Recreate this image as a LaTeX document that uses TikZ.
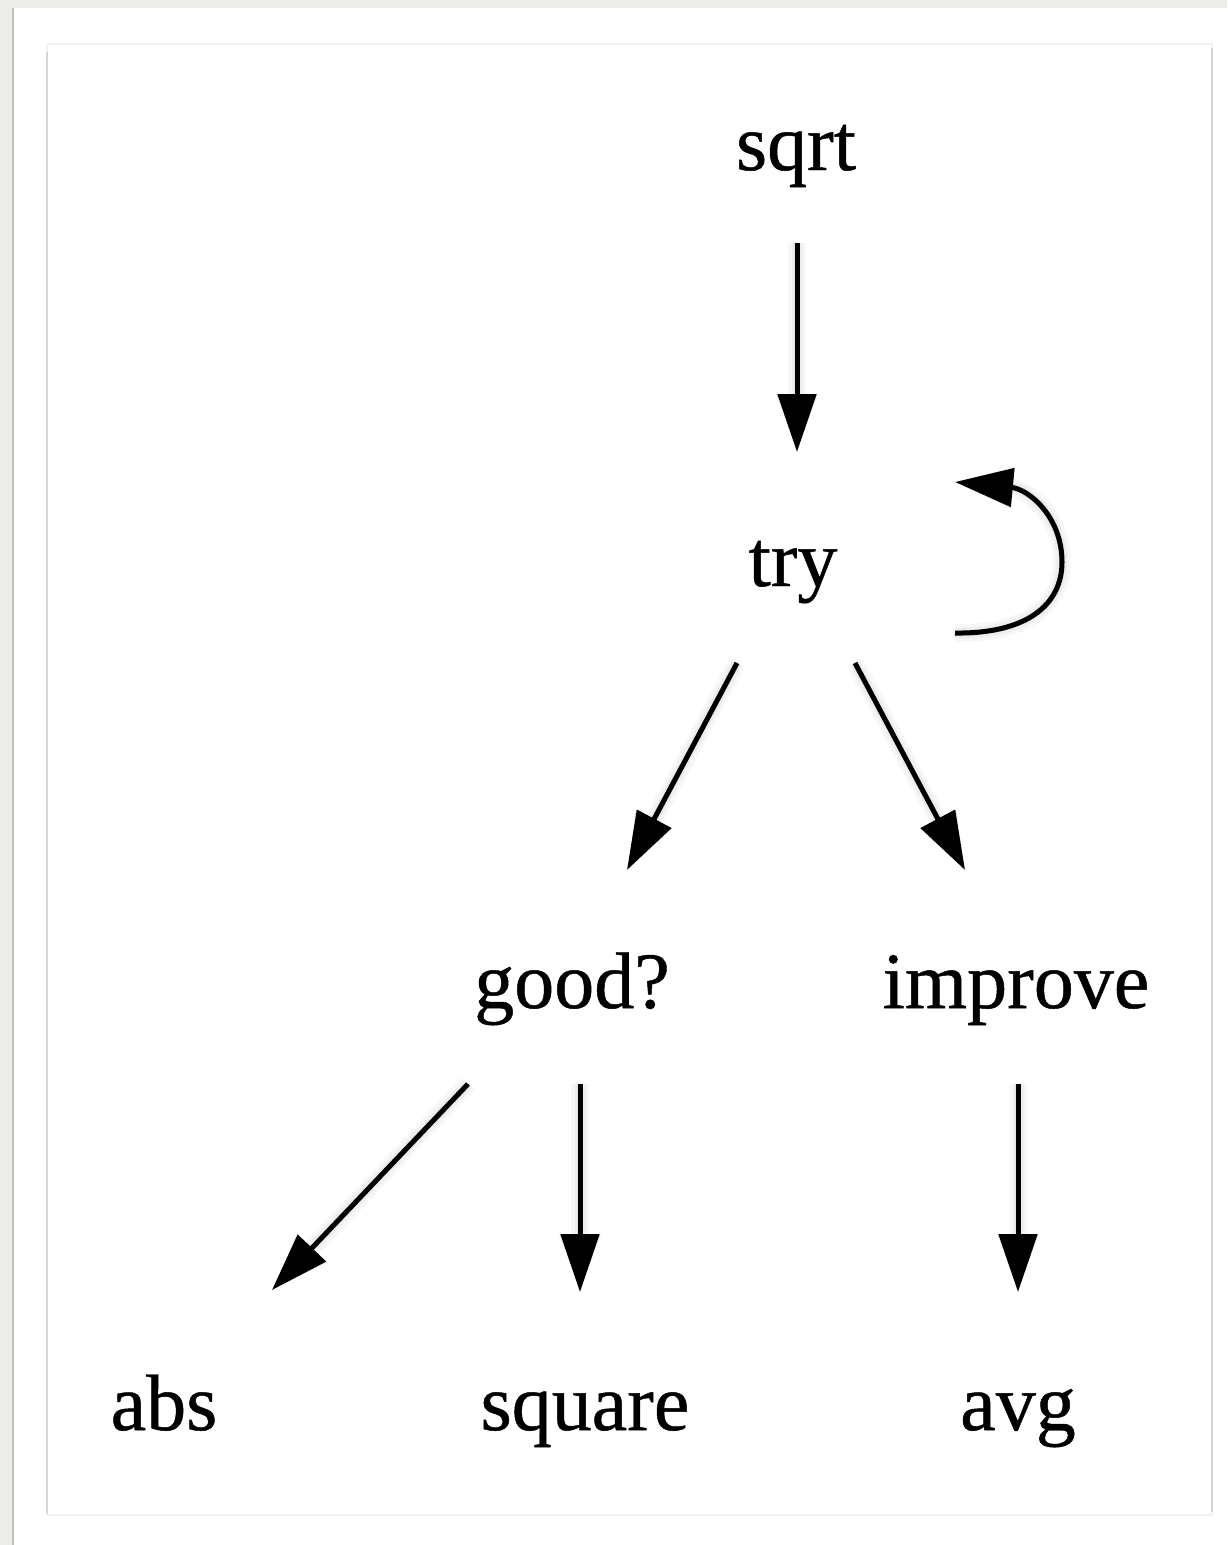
\documentclass[tikz,border=0pt]{standalone}
\usepackage{fontspec}
\setmainfont{Liberation Serif}
\newfontfamily\lblfont[FakeBold=0.6]{Liberation Serif}
\usetikzlibrary{arrows.meta}
\definecolor{bggray}{RGB}{236,236,232}
\definecolor{edgegray}{RGB}{190,190,188}
\definecolor{panelline}{RGB}{214,214,212}
\definecolor{panelfaint}{RGB}{242,242,240}
\newcommand\alledges[1]{%
\draw[#1] ([shift={(1,93)}]sqrt.center) -- ([shift={(4,-114)}]try.center);
\draw[#1] ([shift={(-56,97)}]try.center) -- ([shift={(55,-118)}]good.center);
\draw[#1] ([shift={(62,97)}]try.center) -- ([shift={(-51,-118)}]improve.center);
\draw[#1] ([shift={(-104,96)}]good.center) -- ([shift={(108,-120)}]abs.center);
\draw[#1] ([shift={(8,96)}]good.center) -- ([shift={(-5,-118)}]square.center);
\draw[#1] ([shift={(2,96)}]improve.center) -- ([shift={(0,-118)}]avg.center);
\draw[#1] ([shift={(162,67)}]try.center)
  .. controls ([shift={(232,68)}]try.center) and ([shift={(269,40)}]try.center) .. ([shift={(269,-4)}]try.center)
  .. controls ([shift={(269,-50)}]try.center) and ([shift={(235,-77)}]try.center) .. ([shift={(162,-84)}]try.center);
}
\begin{document}
\begin{tikzpicture}[x=1pt,y=-1pt,
  lbl/.style={font=\lblfont\fontsize{80}{80}\selectfont, text height=40pt, text depth=0pt,
              inner sep=0pt, anchor=center},
  edge/.style={line width=5pt, -{Triangle[length=58pt,width=38pt]}},
  edgeshadow/.style={edge, draw=black, opacity=#1, shift={(0,6)}}]
\useasboundingbox (0,0) rectangle (1227,1545);
% page background
\fill[bggray] (0,0) rectangle (1227,1545);
\fill[white] (13,8) rectangle (1227,1545);
\draw[edgegray, line width=2pt] (13,8) -- (13,1545);
% inner panel
\draw[panelfaint, line width=1.5pt] (47,44) rectangle (1212,1515);
\draw[panelline, line width=2pt] (47,52) -- (47,1513);
\draw[panelline, line width=2pt] (1212,48) -- (1212,1512);
% nodes
\node[lbl] (sqrt)    at (796,150)  {sqrt};
\node[lbl] (try)     at (793,566)  {try};
\node[lbl] (good)    at (572,988)  {good?};
\node[lbl] (improve) at (1016,988) {improve};
\node[lbl] (abs)     at (164,1410) {abs};
\node[lbl] (square)  at (585,1410) {square};
\node[lbl] (avg)     at (1018,1410){avg};
% edge shadows
\alledges{edgeshadow=0.03, line width=18pt}
\alledges{edgeshadow=0.035, line width=11pt}
\alledges{edgeshadow=0.04, line width=6pt}
% edges
\alledges{edge}
\end{tikzpicture}
\end{document}
